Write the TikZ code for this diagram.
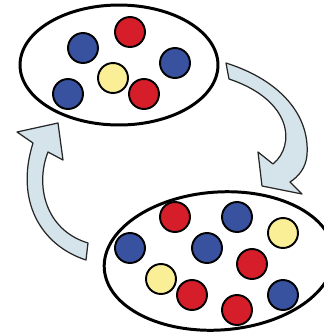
\documentclass[tikz,border=0pt]{standalone}
\usetikzlibrary{shapes.geometric}
\definecolor{ballred}{RGB}{214,30,42}
\definecolor{ballblue}{RGB}{56,82,160}
\definecolor{ballyellow}{RGB}{250,238,150}
\definecolor{cyclefill}{RGB}{212,228,234}
\tikzset{
  pool/.style   = {draw, ellipse, line width=1.7pt, inner sep=0pt},
  ball/.style   = {draw, circle, line width=1.1pt, minimum size=0.6cm, inner sep=0pt},
  rball/.style  = {ball, fill=ballred},
  bball/.style  = {ball, fill=ballblue},
  yball/.style  = {ball, fill=ballyellow},
  cycle/.style  = {draw=black!85, line width=0.7pt, fill=cyclefill, line join=round},
}
\begin{document}
\begin{tikzpicture}[x=0.02cm, y=-0.02cm]
  \useasboundingbox (0,0) rectangle (324,336);

  % curved arrows
  \path[cycle] (226,63) .. controls (280,80) and (310,115) .. (307,155)
    .. controls (306,168) and (298,177) .. (290,182) -- (302,194) -- (262,186)
    -- (258,152) -- (273,164) .. controls (296,145) and (292,100) .. (229,79) -- cycle;
  \path[cycle] (86,260) .. controls (40,245) and (15,200) .. (33,143)
    -- (17,132) -- (58,123) -- (63,160) -- (48,152)
    .. controls (35,185) and (45,230) .. (88,243) -- cycle;

  % pools
  \node[pool, minimum width=3.96cm, minimum height=2.4cm] (small) at (119,65) {};
  \node[pool, minimum width=4.6cm, minimum height=2.76cm, rotate=4] (large) at (219,261) {};

  \node[bball] (s1) at (83,48)  {};
  \node[rball] (s2) at (130,32) {};
  \node[bball] (s3) at (175,63) {};
  \node[yball] (s4) at (113,78) {};
  \node[rball] (s5) at (144,94) {};
  \node[bball] (s6) at (68,94)  {};

  \node[rball] (l1)  at (175,217) {};
  \node[bball] (l2)  at (237,217) {};
  \node[yball] (l3)  at (283,233) {};
  \node[bball] (l4)  at (130,248) {};
  \node[bball] (l5)  at (207,248) {};
  \node[rball] (l6)  at (252,264) {};
  \node[yball] (l7)  at (161,279) {};
  \node[rball] (l8)  at (192,295) {};
  \node[rball] (l9)  at (237,310) {};
  \node[bball] (l10) at (283,295) {};
\end{tikzpicture}
\end{document}
